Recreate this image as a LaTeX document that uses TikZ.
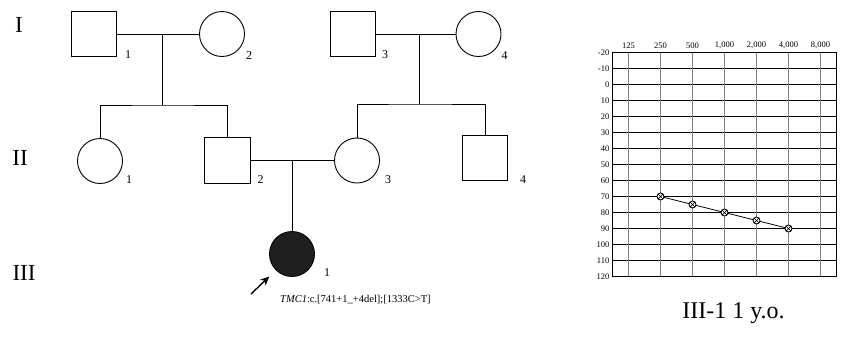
\documentclass[tikz,border=0pt]{standalone}
\usepackage{fontspec}
\setmainfont{Liberation Serif}
\usetikzlibrary{arrows.meta}

\tikzset{
  male/.style={draw, line width=0.9pt, minimum size=45.5pt, inner sep=0pt},
  female/.style={draw, circle, line width=0.9pt, minimum size=45pt, inner sep=0pt},
  affected/.style={female, fill=black!88},
  num/.style={font=\fontsize{12}{12}\selectfont, inner sep=0pt},
  gen/.style={font=\fontsize{23}{23}\selectfont, inner sep=0pt},
  link/.style={line width=1pt},
  proband/.style={line width=1.4pt, -{Stealth[length=9pt,width=8pt]}, shorten >=9pt},
  geno/.style={font=\fontsize{10.5}{10.5}\selectfont, inner sep=0pt},
  hline/.style={line width=0.8pt},
  vline/.style={line width=1.4pt, black!50},
  frame/.style={line width=0.9pt},
  tick/.style={font=\fontsize{8.5}{8.5}\selectfont, inner sep=0pt},
  ear/.style={circle, draw, fill=white, minimum size=7pt, inner sep=0pt, line width=0.9pt,
    path picture={\draw[line width=0.7pt] (path picture bounding box.north west) -- (path picture bounding box.south east)
      (path picture bounding box.north east) -- (path picture bounding box.south west);}},
  audio/.style={line width=0.8pt},
  caption/.style={font=\fontsize{24}{24}\selectfont, inner sep=0pt},
}

\begin{document}
\begin{tikzpicture}[x=1pt,y=-1pt]
\useasboundingbox (0,0) rectangle (851,338);

% generation labels
\node[gen] (gI) at (19,25) {I};
\node[gen] (gII) at (20,158) {II};
\node[gen] (gIII) at (24,273) {III};

% generation I
\node[male] (i1) at (94,34) {};
\node[female] (i2) at (222,34) {};
\node[male] (i3) at (353,34) {};
\node[female] (i4) at (478.5,34) {};

% generation II
\node[female] (ii1) at (100,161) {};
\node[male] (ii2) at (227.5,160.5) {};
\node[female] (ii3) at (357,160.5) {};
\node[male] (ii4) at (485,158) {};

% generation III
\node[affected] (iii1) at (292,254) {};

% individual numbers
\node[num] (n-i1) at ([shift={(11,-3)}]i1.south east) {1};
\node[num] (n-i2) at ([shift={(11,5)}]i2.south east) {2};
\node[num] (n-i3) at ([shift={(9,-3)}]i3.south east) {3};
\node[num] (n-i4) at ([shift={(10,5)}]i4.south east) {4};
\node[num] (n-ii1) at ([shift={(13,2)}]ii1.south east) {1};
\node[num] (n-ii2) at ([shift={(10,-4)}]ii2.south east) {2};
\node[num] (n-ii3) at ([shift={(15,3)}]ii3.south east) {3};
\node[num] (n-ii4) at ([shift={(15,-2)}]ii4.south east) {4};
\node[num] (n-iii1) at ([shift={(19,2)}]iii1.south east) {1};

% marriages and sibships
\coordinate (m1) at (162,34);
\coordinate (s1) at (162,105);
\coordinate (m2) at (419,34);
\coordinate (s2) at (419,104);
\coordinate (m3) at (292,160.5);

\draw[link] (i1) -- (i2);
\draw[link] (m1) -- (s1);
\draw[link] (ii1) |- (s1) -| (ii2);
\draw[link] (i3) -- (i4);
\draw[link] (m2) -- (s2);
\draw[link] (ii3) |- (s2) -| (ii4);
\draw[link] (ii2) -- (ii3);
\draw[link] (m3) -- (iii1);

% proband arrow and genotype
\coordinate (pa) at (251,294);
\draw[proband] (pa) -- (iii1.225);
\node[geno, anchor=west] (g) at (280,300) {\textit{TMC1}:c.[741+1\_+4del];[1333C>T]};

% audiogram grid
\def\ax{612.5}
\def\ay{52.5}
\def\cell{16}

% hearing level rows
\foreach \v [count=\k from 0] in {-20,-10,...,120} {
    \draw[hline] (\ax,\ay+\k*\cell) -- (\ax+14*\cell,\ay+\k*\cell);
    \node[tick, anchor=east] (db\k) at (\ax-3,\ay+\k*\cell) {\v};
}

% frequency columns
\foreach \f [count=\k from 0] in {125,250,500,{1,000},{2,000},{4,000},{8,000}} {
    \draw[vline] (\ax+\cell+2*\k*\cell,\ay) -- (\ax+\cell+2*\k*\cell,\ay+14*\cell);
    \node[tick] (hz\k) at (\ax+\cell+2*\k*\cell,\ay-7) {\f};
}
\draw[frame] (\ax,\ay) rectangle (\ax+14*\cell,\ay+14*\cell);

% thresholds
\foreach \i/\db in {1/70,2/75,3/80,4/85,5/90} {
    \coordinate (p\i) at (\ax+\cell+2*\i*\cell,\ay+\db/10*\cell+2*\cell);
}
\draw[audio] (p1) -- (p2) -- (p3) -- (p4) -- (p5);
\foreach \i in {1,...,5} {
    \node[ear] (e\i) at (p\i) {};
}

\node[caption, anchor=base] (cap) at (733.5,318) {III-1 1 y.o.};

\end{tikzpicture}
\end{document}
